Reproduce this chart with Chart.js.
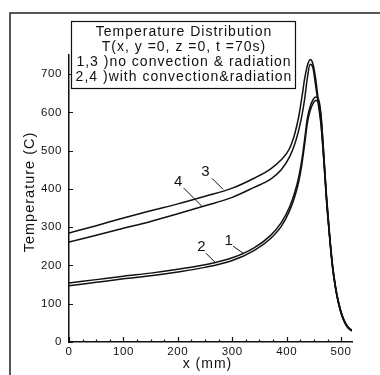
<!DOCTYPE html>
<html>
<head>
<meta charset="utf-8">
<script src="https://cdn.jsdelivr.net/npm/chart.js@4.4.1/dist/chart.umd.min.js"></script>
<style>
  html, body { margin: 0; padding: 0; background: #fff; }
  canvas { display: block; }
</style>
</head>
<body>
<canvas id="chart" width="380" height="375"></canvas>
<script>
// Position along x (mm) shared by all four temperature curves
const positions = [0, 50, 100, 150, 200, 250, 300, 340, 370, 390, 405, 415, 422, 428, 433, 438, 443, 448, 453, 458, 463, 468, 473, 478, 484, 490, 496, 502, 508, 514, 520];

// Temperature (C) of each curve at those positions
const curve1 = [154, 163, 172, 180, 190, 202, 220, 246, 278, 312, 352, 392, 430, 478, 530, 585, 615, 632, 640, 636, 595, 495, 385, 295, 205, 143, 100, 70, 50, 37, 31];
const curve2 = [147, 156, 165, 173, 183, 195, 213, 239, 270, 302, 342, 381, 418, 465, 517, 572, 604, 622, 631, 628, 588, 490, 380, 291, 201, 140, 97, 68, 48, 35, 29];
const curve3 = [285, 304, 324, 343, 361, 381, 402, 428, 452, 476, 505, 545, 588, 640, 688, 722, 738, 728, 690, 632, 575, 482, 376, 290, 200, 140, 98, 68, 48, 36, 30];
const curve4 = [261, 279, 297, 315, 335, 356, 378, 404, 425, 450, 483, 518, 553, 592, 635, 690, 726, 718, 672, 622, 568, 478, 372, 286, 196, 137, 96, 66, 47, 35, 29];

const curveNames = ['1', '2', '3', '4'];
// Where each number's leader line touches its curve: [x (mm), T (C)]
const curveLabelAt = [[320, 232], [270, 206], [283, 399], [244, 355]];

const xTicks = [0, 100, 200, 300, 400, 500];
const yTicks = [0, 100, 200, 300, 400, 500, 600, 700];
const xTitle = 'x (mm)';
const yTitle = 'Temperature (C)';
const boxLines = [
  'Temperature Distribution',
  'T(x, y =0, z =0, t =70s)',
  '1,3 )no convection & radiation',
  '2,4 )with convection&radiation'
];

const INK = '#111';
const FONT = '"Liberation Sans", Arial, sans-serif';

const seriesList = [curve1, curve2, curve3, curve4];
const datasets = seriesList.map((vals, i) => ({
  label: curveNames[i],
  data: positions.map((x, k) => ({ x: x, y: vals[k] })),
  borderColor: INK,
  borderWidth: 1.5,
  pointRadius: 0,
  cubicInterpolationMode: 'monotone',
  fill: false
}));

// label/leader offsets in px relative to the point on the curve
const labelOffsets = [
  { tx: -14, ty: -12, lx: -10, ly: -7 },
  { tx: -14, ty: -16, lx: -10, ly: -10 },
  { tx: -17, ty: -17, lx: -11, ly: -11 },
  { tx: -23, ty: -24, lx: -18, ly: -18 }
];

const decor = {
  id: 'decor',
  beforeDraw(chart) {
    const ctx = chart.ctx;
    ctx.save();
    ctx.fillStyle = '#fff';
    ctx.fillRect(0, 0, chart.width, chart.height);
    // outer frame (left and top edges)
    ctx.strokeStyle = '#222';
    ctx.lineWidth = 1.5;
    ctx.beginPath();
    ctx.moveTo(10, chart.height);
    ctx.lineTo(10, 13);
    ctx.lineTo(chart.width, 13);
    ctx.stroke();
    ctx.restore();
    ctx.letterSpacing = '0.6px';
  },
  afterDraw(chart) {
    const ctx = chart.ctx;
    const xs = chart.scales.x, ys = chart.scales.y;
    const area = chart.chartArea;
    ctx.save();
    ctx.strokeStyle = INK;
    ctx.fillStyle = INK;
    ctx.lineWidth = 1.2;

    // inward tick marks
    ctx.beginPath();
    yTicks.forEach(v => {
      const py = Math.round(ys.getPixelForValue(v)) + 0.5;
      ctx.moveTo(area.left, py);
      ctx.lineTo(area.left + 4, py);
    });
    for (let v = 0; v <= 520; v += 25) {
      const px = Math.round(xs.getPixelForValue(v)) + 0.5;
      const len = (v % 100 === 0) ? 5 : 2.5;
      ctx.moveTo(px, area.bottom);
      ctx.lineTo(px, area.bottom - len);
    }
    ctx.stroke();

    // axis titles
    ctx.letterSpacing = '1px';
    ctx.font = '14px ' + FONT;
    ctx.textAlign = 'center';
    ctx.textBaseline = 'middle';
    ctx.fillText(xTitle, (area.left + area.right) / 2 - 3, 364);
    ctx.save();
    ctx.translate(30, 192);
    ctx.rotate(-Math.PI / 2);
    ctx.font = '14.5px ' + FONT;
    ctx.fillText(yTitle, 0, 0);
    ctx.restore();

    // description box
    const bx = area.left + 2, by = 21, bw = 224, bh = 67;
    ctx.fillStyle = '#fff';
    ctx.fillRect(bx, by, bw, bh);
    ctx.lineWidth = 1.2;
    ctx.strokeStyle = INK;
    ctx.strokeRect(bx + 0.5, by + 0.5, bw, bh);
    ctx.fillStyle = INK;
    ctx.font = '14px ' + FONT;
    boxLines.forEach((t, i) => {
      ctx.fillText(t, bx + bw / 2 + 1, by + 11 + i * 15);
    });

    // curve numbers with leader lines
    ctx.font = '15px ' + FONT;
    ctx.lineWidth = 1;
    curveLabelAt.forEach((p, i) => {
      const px = xs.getPixelForValue(p[0]);
      const py = ys.getPixelForValue(p[1]);
      const o = labelOffsets[i];
      ctx.beginPath();
      ctx.moveTo(px + o.lx, py + o.ly);
      ctx.lineTo(px, py);
      ctx.stroke();
      ctx.fillText(curveNames[i], px + o.tx, py + o.ty);
    });
    ctx.restore();
  }
};

new Chart(document.getElementById('chart').getContext('2d'), {
  type: 'line',
  data: { datasets: datasets },
  options: {
    responsive: false,
    animation: false,
    devicePixelRatio: 1,
    layout: { padding: { left: 0, right: 28, top: 55, bottom: 0 } },
    plugins: { legend: { display: false }, tooltip: { enabled: false } },
    scales: {
      x: {
        type: 'linear',
        min: 0,
        max: 520,
        afterFit(s) { s.height = 33; },
        afterBuildTicks(s) { s.ticks = xTicks.map(v => ({ value: v })); },
        grid: { display: false, drawTicks: false },
        border: { display: true, color: INK, width: 1.5 },
        ticks: { color: INK, font: { family: FONT, size: 11.5 }, padding: 3, maxRotation: 0, autoSkip: false }
      },
      y: {
        type: 'linear',
        min: 0,
        max: 750,
        afterFit(s) { s.width = 69; },
        afterBuildTicks(s) { s.ticks = yTicks.map(v => ({ value: v })); },
        grid: { display: false, drawTicks: false },
        border: { display: true, color: INK, width: 1.5 },
        ticks: { color: INK, font: { family: FONT, size: 11.5 }, padding: 7, autoSkip: false }
      }
    }
  },
  plugins: [decor]
});
</script>
</body>
</html>
